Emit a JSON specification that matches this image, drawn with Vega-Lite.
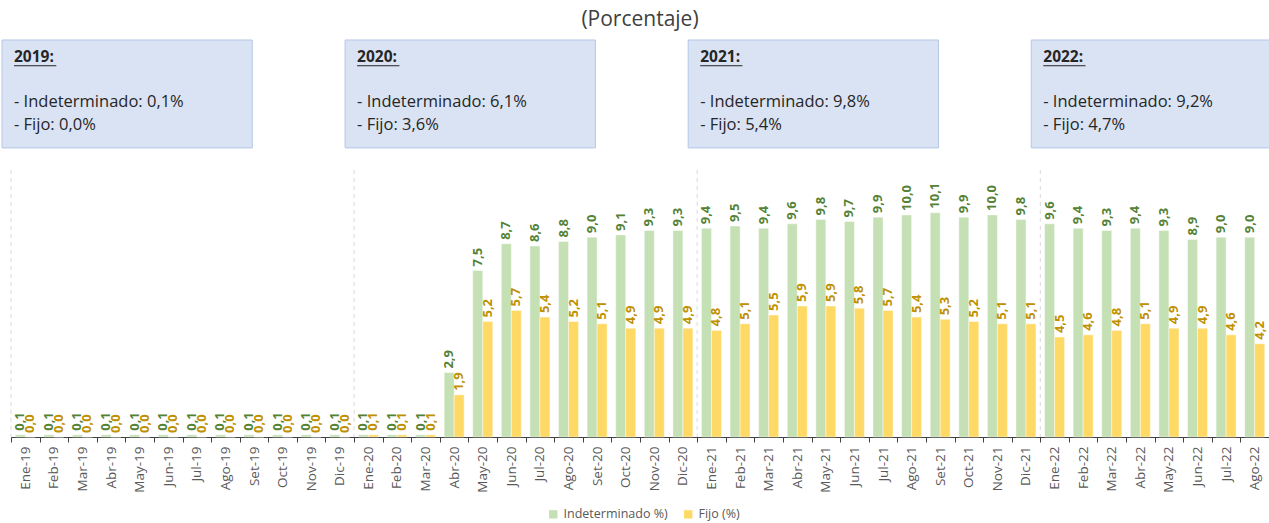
{
  "$schema": "https://vega.github.io/schema/vega-lite/v6.json",
  "width": 1258,
  "height": 407,
  "autosize": {"type": "none"},
  "padding": {"left": 11, "right": 0, "top": 30, "bottom": 86},
  "title": {"text": "(Porcentaje)", "fontSize": 21, "font": "Open Sans", "fontWeight": "normal", "color": "#404040", "offset": 0},
  "config": {
    "font": "Open Sans",
    "view": {"stroke": null},
    "locale": {"number": {"decimal": ",", "thousands": ".", "grouping": [3], "currency": ["", " €"]}}
  },
  "datasets": {
    "serie": [
      {"mes": "Ene-19", "serie": "Indeterminado %)", "valor": 0.1}, {"mes": "Ene-19", "serie": "Fijo (%)", "valor": 0.0},
      {"mes": "Feb-19", "serie": "Indeterminado %)", "valor": 0.1}, {"mes": "Feb-19", "serie": "Fijo (%)", "valor": 0.0},
      {"mes": "Mar-19", "serie": "Indeterminado %)", "valor": 0.1}, {"mes": "Mar-19", "serie": "Fijo (%)", "valor": 0.0},
      {"mes": "Abr-19", "serie": "Indeterminado %)", "valor": 0.1}, {"mes": "Abr-19", "serie": "Fijo (%)", "valor": 0.0},
      {"mes": "May-19", "serie": "Indeterminado %)", "valor": 0.1}, {"mes": "May-19", "serie": "Fijo (%)", "valor": 0.0},
      {"mes": "Jun-19", "serie": "Indeterminado %)", "valor": 0.1}, {"mes": "Jun-19", "serie": "Fijo (%)", "valor": 0.0},
      {"mes": "Jul-19", "serie": "Indeterminado %)", "valor": 0.1}, {"mes": "Jul-19", "serie": "Fijo (%)", "valor": 0.0},
      {"mes": "Ago-19", "serie": "Indeterminado %)", "valor": 0.1}, {"mes": "Ago-19", "serie": "Fijo (%)", "valor": 0.0},
      {"mes": "Set-19", "serie": "Indeterminado %)", "valor": 0.1}, {"mes": "Set-19", "serie": "Fijo (%)", "valor": 0.0},
      {"mes": "Oct-19", "serie": "Indeterminado %)", "valor": 0.1}, {"mes": "Oct-19", "serie": "Fijo (%)", "valor": 0.0},
      {"mes": "Nov-19", "serie": "Indeterminado %)", "valor": 0.1}, {"mes": "Nov-19", "serie": "Fijo (%)", "valor": 0.0},
      {"mes": "Dic-19", "serie": "Indeterminado %)", "valor": 0.1}, {"mes": "Dic-19", "serie": "Fijo (%)", "valor": 0.0},
      {"mes": "Ene-20", "serie": "Indeterminado %)", "valor": 0.1}, {"mes": "Ene-20", "serie": "Fijo (%)", "valor": 0.1},
      {"mes": "Feb-20", "serie": "Indeterminado %)", "valor": 0.1}, {"mes": "Feb-20", "serie": "Fijo (%)", "valor": 0.1},
      {"mes": "Mar-20", "serie": "Indeterminado %)", "valor": 0.1}, {"mes": "Mar-20", "serie": "Fijo (%)", "valor": 0.1},
      {"mes": "Abr-20", "serie": "Indeterminado %)", "valor": 2.9}, {"mes": "Abr-20", "serie": "Fijo (%)", "valor": 1.9},
      {"mes": "May-20", "serie": "Indeterminado %)", "valor": 7.5}, {"mes": "May-20", "serie": "Fijo (%)", "valor": 5.2},
      {"mes": "Jun-20", "serie": "Indeterminado %)", "valor": 8.7}, {"mes": "Jun-20", "serie": "Fijo (%)", "valor": 5.7},
      {"mes": "Jul-20", "serie": "Indeterminado %)", "valor": 8.6}, {"mes": "Jul-20", "serie": "Fijo (%)", "valor": 5.4},
      {"mes": "Ago-20", "serie": "Indeterminado %)", "valor": 8.8}, {"mes": "Ago-20", "serie": "Fijo (%)", "valor": 5.2},
      {"mes": "Set-20", "serie": "Indeterminado %)", "valor": 9.0}, {"mes": "Set-20", "serie": "Fijo (%)", "valor": 5.1},
      {"mes": "Oct-20", "serie": "Indeterminado %)", "valor": 9.1}, {"mes": "Oct-20", "serie": "Fijo (%)", "valor": 4.9},
      {"mes": "Nov-20", "serie": "Indeterminado %)", "valor": 9.3}, {"mes": "Nov-20", "serie": "Fijo (%)", "valor": 4.9},
      {"mes": "Dic-20", "serie": "Indeterminado %)", "valor": 9.3}, {"mes": "Dic-20", "serie": "Fijo (%)", "valor": 4.9},
      {"mes": "Ene-21", "serie": "Indeterminado %)", "valor": 9.4}, {"mes": "Ene-21", "serie": "Fijo (%)", "valor": 4.8},
      {"mes": "Feb-21", "serie": "Indeterminado %)", "valor": 9.5}, {"mes": "Feb-21", "serie": "Fijo (%)", "valor": 5.1},
      {"mes": "Mar-21", "serie": "Indeterminado %)", "valor": 9.4}, {"mes": "Mar-21", "serie": "Fijo (%)", "valor": 5.5},
      {"mes": "Abr-21", "serie": "Indeterminado %)", "valor": 9.6}, {"mes": "Abr-21", "serie": "Fijo (%)", "valor": 5.9},
      {"mes": "May-21", "serie": "Indeterminado %)", "valor": 9.8}, {"mes": "May-21", "serie": "Fijo (%)", "valor": 5.9},
      {"mes": "Jun-21", "serie": "Indeterminado %)", "valor": 9.7}, {"mes": "Jun-21", "serie": "Fijo (%)", "valor": 5.8},
      {"mes": "Jul-21", "serie": "Indeterminado %)", "valor": 9.9}, {"mes": "Jul-21", "serie": "Fijo (%)", "valor": 5.7},
      {"mes": "Ago-21", "serie": "Indeterminado %)", "valor": 10.0}, {"mes": "Ago-21", "serie": "Fijo (%)", "valor": 5.4},
      {"mes": "Set-21", "serie": "Indeterminado %)", "valor": 10.1}, {"mes": "Set-21", "serie": "Fijo (%)", "valor": 5.3},
      {"mes": "Oct-21", "serie": "Indeterminado %)", "valor": 9.9}, {"mes": "Oct-21", "serie": "Fijo (%)", "valor": 5.2},
      {"mes": "Nov-21", "serie": "Indeterminado %)", "valor": 10.0}, {"mes": "Nov-21", "serie": "Fijo (%)", "valor": 5.1},
      {"mes": "Dic-21", "serie": "Indeterminado %)", "valor": 9.8}, {"mes": "Dic-21", "serie": "Fijo (%)", "valor": 5.1},
      {"mes": "Ene-22", "serie": "Indeterminado %)", "valor": 9.6}, {"mes": "Ene-22", "serie": "Fijo (%)", "valor": 4.5},
      {"mes": "Feb-22", "serie": "Indeterminado %)", "valor": 9.4}, {"mes": "Feb-22", "serie": "Fijo (%)", "valor": 4.6},
      {"mes": "Mar-22", "serie": "Indeterminado %)", "valor": 9.3}, {"mes": "Mar-22", "serie": "Fijo (%)", "valor": 4.8},
      {"mes": "Abr-22", "serie": "Indeterminado %)", "valor": 9.4}, {"mes": "Abr-22", "serie": "Fijo (%)", "valor": 5.1},
      {"mes": "May-22", "serie": "Indeterminado %)", "valor": 9.3}, {"mes": "May-22", "serie": "Fijo (%)", "valor": 4.9},
      {"mes": "Jun-22", "serie": "Indeterminado %)", "valor": 8.9}, {"mes": "Jun-22", "serie": "Fijo (%)", "valor": 4.9},
      {"mes": "Jul-22", "serie": "Indeterminado %)", "valor": 9.0}, {"mes": "Jul-22", "serie": "Fijo (%)", "valor": 4.6},
      {"mes": "Ago-22", "serie": "Indeterminado %)", "valor": 9.0}, {"mes": "Ago-22", "serie": "Fijo (%)", "valor": 4.2}
    ],
    "anios": [
      {"mes": "Ene-19", "anio": "2019:", "ind": "- Indeterminado: 0,1%", "fijo": "- Fijo: 0,0%"},
      {"mes": "Ene-20", "anio": "2020:", "ind": "- Indeterminado: 6,1%", "fijo": "- Fijo: 3,6%"},
      {"mes": "Ene-21", "anio": "2021:", "ind": "- Indeterminado: 9,8%", "fijo": "- Fijo: 5,4%"},
      {"mes": "Ene-22", "anio": "2022:", "ind": "- Indeterminado: 9,2%", "fijo": "- Fijo: 4,7%"}
    ]
  },
  "encoding": {
    "x": {
      "field": "mes", "type": "ordinal",
      "scale": {"paddingInner": 0, "paddingOuter": 0, "domain": ["Ene-19","Feb-19","Mar-19","Abr-19","May-19","Jun-19","Jul-19","Ago-19","Set-19","Oct-19","Nov-19","Dic-19","Ene-20","Feb-20","Mar-20","Abr-20","May-20","Jun-20","Jul-20","Ago-20","Set-20","Oct-20","Nov-20","Dic-20","Ene-21","Feb-21","Mar-21","Abr-21","May-21","Jun-21","Jul-21","Ago-21","Set-21","Oct-21","Nov-21","Dic-21","Ene-22","Feb-22","Mar-22","Abr-22","May-22","Jun-22","Jul-22","Ago-22"]},
      "axis": {"title": null, "labelAngle": -90, "labelFontSize": 13.5, "labelColor": "#595959", "tickBand": "extent", "tickColor": "#404040", "domainColor": "#404040", "tickSize": 5, "labelPadding": 4}
    }
  },
  "layer": [
    {
      "data": {"name": "anios"},
      "mark": {"type": "rule", "color": "#d9d9d9", "strokeWidth": 1, "strokeDash": [4, 4]},
      "encoding": {
        "x": {"field": "mes", "type": "ordinal", "bandPosition": 0},
        "y": {"datum": 12.03, "type": "quantitative", "scale": {"domain": [0, 18.33], "nice": false}, "axis": null},
        "y2": {"datum": 0}
      }
    },
    {
      "data": {"name": "serie"},
      "mark": {"type": "bar", "stroke": "#ffffff", "strokeWidth": 0.6, "strokeOpacity": 0.7},
      "encoding": {
        "xOffset": {"field": "serie", "type": "nominal", "scale": {"domain": ["Indeterminado %)", "Fijo (%)"], "paddingInner": 0, "paddingOuter": 0.43}},
        "y": {"field": "valor", "type": "quantitative"},
        "color": {
          "field": "serie", "type": "nominal",
          "scale": {"domain": ["Indeterminado %)", "Fijo (%)"], "range": ["#c5e0b4", "#ffd966"]},
          "legend": {"orient": "none", "legendX": 536, "legendY": 478, "title": null, "symbolType": "square", "symbolSize": 70, "symbolStrokeWidth": 0, "labelFontSize": 12.5, "labelColor": "#595959", "direction": "horizontal", "columnPadding": 14}
        }
      }
    },
    {
      "data": {"name": "serie"},
      "mark": {"type": "text", "angle": 270, "align": "left", "baseline": "middle", "dx": 4, "fontSize": 13, "fontWeight": "bold"},
      "encoding": {
        "xOffset": {"field": "serie", "type": "nominal"},
        "y": {"field": "valor", "type": "quantitative"},
        "text": {"field": "valor", "type": "quantitative", "format": ".1f"},
        "color": {"condition": {"test": "datum.serie === 'Fijo (%)'", "value": "#bf9000"}, "value": "#548235"}
      }
    },
    {
      "data": {"name": "anios"},
      "mark": {"type": "rect", "fill": "#dae3f3", "stroke": "#b4c7e7", "strokeWidth": 1, "xOffset": -9, "x2Offset": 227},
      "encoding": {
        "x": {"field": "mes", "type": "ordinal", "bandPosition": 0},
        "x2": {"field": "mes"},
        "y": {"datum": 17.88},
        "y2": {"datum": 13.02}
      }
    },
    {
      "data": {"name": "anios"},
      "mark": {"type": "text", "align": "left", "baseline": "middle", "fontSize": 15.5, "fontWeight": "bold", "color": "#262626", "xOffset": 3},
      "encoding": {
        "x": {"field": "mes", "type": "ordinal", "bandPosition": 0},
        "y": {"datum": 17.12},
        "text": {"field": "anio"}
      }
    },
    {
      "data": {"name": "anios"},
      "mark": {"type": "rule", "color": "#262626", "strokeWidth": 1, "xOffset": 3, "x2Offset": 31},
      "encoding": {
        "x": {"field": "mes", "type": "ordinal", "bandPosition": 0},
        "x2": {"field": "mes"},
        "y": {"datum": 16.72}
      }
    },
    {
      "data": {"name": "anios"},
      "mark": {"type": "text", "align": "left", "baseline": "middle", "fontSize": 16.5, "color": "#262626", "xOffset": 3},
      "encoding": {
        "x": {"field": "mes", "type": "ordinal", "bandPosition": 0},
        "y": {"datum": 15.09},
        "text": {"field": "ind"}
      }
    },
    {
      "data": {"name": "anios"},
      "mark": {"type": "text", "align": "left", "baseline": "middle", "fontSize": 16.5, "color": "#262626", "xOffset": 3},
      "encoding": {
        "x": {"field": "mes", "type": "ordinal", "bandPosition": 0},
        "y": {"datum": 14.05},
        "text": {"field": "fijo"}
      }
    }
  ]
}
